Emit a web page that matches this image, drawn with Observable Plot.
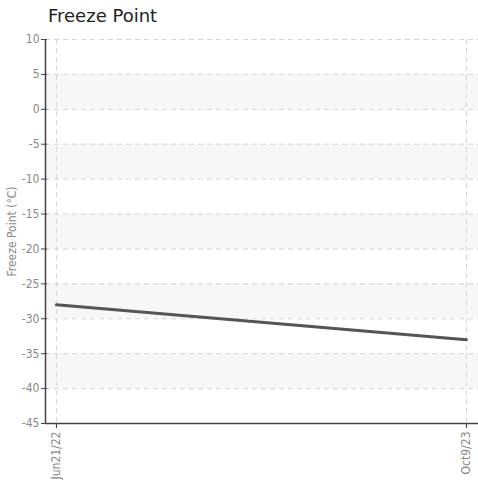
<!DOCTYPE html>
<html><head><meta charset="utf-8">
<script src="https://cdn.jsdelivr.net/npm/d3@7"></script>
<script src="https://cdn.jsdelivr.net/npm/@observablehq/plot@0.6"></script>
<style>
body{margin:0;background:#fff;}
#title{position:absolute;left:48px;top:5px;font-family:"DejaVu Sans",sans-serif;font-size:18px;color:#222;}
#chart{position:absolute;left:0;top:28px;}
</style>
</head><body>
<div id="title">Freeze Point</div>
<div id="chart"></div>
<script>
const dates = ["2022-06-21", "2023-10-09"];
const freezePoint = [-28, -33];
const dateLabels = ["Jun21/22", "Oct9/23"];
const yTicks = [10, 5, 0, -5, -10, -15, -20, -25, -30, -35, -40, -45];
const bandTop = [5, -5, -15, -25, -35];
const bandBottom = [0, -10, -20, -30, -40];
const xDomain = ["2022-06-08T08:00", "2023-10-23"];

const parse = s => new Date(s);
const data = dates.map((d, i) => ({date: parse(d), value: freezePoint[i]}));
const bands = bandTop.map((t, i) => ({y1: bandBottom[i], y2: t}));
const tickDates = dates.map(parse);
const labelFor = new Map(tickDates.map((d, i) => [+d, dateLabels[i]]));
const font = "'DejaVu Sans Condensed',sans-serif";

const chart = Plot.plot({
  width: 478,
  height: 458,
  marginTop: 11,
  marginBottom: 63,
  marginLeft: 45,
  marginRight: 0,
  style: {fontFamily: font, background: "#fff"},
  x: {type: "utc", domain: xDomain.map(parse)},
  y: {domain: [-45, 10]},
  marks: [
    Plot.rect(bands, {y1: "y1", y2: "y2", fill: "#f7f7f7"}),
    Plot.gridY({ticks: yTicks, stroke: "#d4d4d4", strokeOpacity: 1, strokeDasharray: "5,4", strokeWidth: 1}),
    Plot.gridX({ticks: tickDates, stroke: "#d4d4d4", strokeOpacity: 1, strokeDasharray: "5,4", strokeWidth: 1}),
    Plot.axisY({ticks: yTicks, tickFormat: d => String(d), tickSize: 4, tickPadding: 2, fill: "#888", stroke: "#444", fontSize: 12,
      label: "Freeze Point (°C)", labelAnchor: "center", labelOffset: 38, labelArrow: "none"}),
    Plot.axisY({ticks: yTicks, tickFormat: () => "", tickSize: 2, dx: 2, stroke: "#444", label: null}),
    Plot.axisX({ticks: tickDates, tickFormat: d => labelFor.get(+d), tickRotate: -90, tickSize: 5, tickPadding: 3,
      fill: "#888", stroke: "#333", fontSize: 12, label: null}),
    Plot.ruleY([-45], {stroke: "#444", strokeWidth: 1.5}),
    Plot.ruleX([parse(xDomain[0])], {stroke: "#444", strokeWidth: 1.5}),
    Plot.line(data, {x: "date", y: "value", stroke: "#555", strokeWidth: 3})
  ]
});
document.getElementById("chart").append(chart);
</script>
</body></html>
